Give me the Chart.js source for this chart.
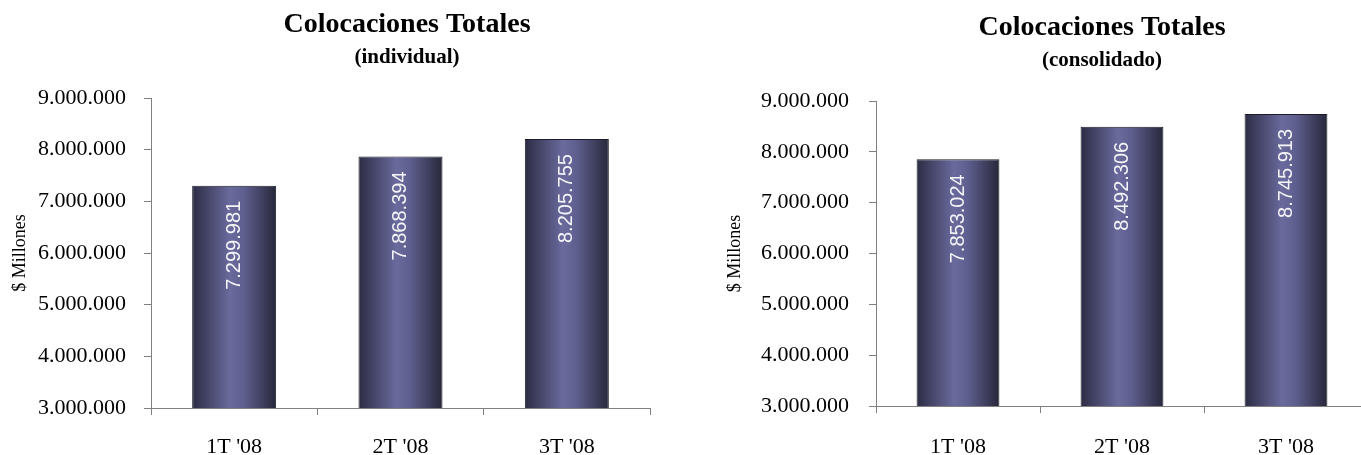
<!DOCTYPE html>
<html>
<head>
<meta charset="utf-8">
<script src="https://cdn.jsdelivr.net/npm/chart.js@4.4.1/dist/chart.umd.min.js"></script>
<style>
  html, body { margin: 0; padding: 0; background: #fff; overflow: hidden; }
  #wrap { position: relative; width: 1361px; height: 455px; overflow: hidden; }
  canvas { position: absolute; top: 0; }
  #chartLeft { left: 0; }
  #chartRight { left: 715px; }
</style>
</head>
<body>
<div id="wrap">
  <canvas id="chartLeft" width="660" height="455"></canvas>
  <canvas id="chartRight" width="660" height="455"></canvas>
</div>
<script>
// Data
const quarters = ["1T '08", "2T '08", "3T '08"];
const individual = [7299981, 7868394, 8205755];
const consolidado = [7853024, 8492306, 8745913];
const yMin = 3000000;
const yMax = 9000000;
const yStep = 1000000;

const serif = "'Liberation Serif', 'Times New Roman', serif";
const sans = "'Liberation Sans', Arial, sans-serif";
const axisGray = "#808080";
const BAR_PCT = 0.505;

// 7299981 -> 7.299.981
function fmt(v) {
  return String(v).replace(/\B(?=(\d{3})+(?!\d))/g, ".");
}

// horizontal shading across each bar
function barFill(context) {
  const chart = context.chart;
  const x = chart.scales.x;
  if (!x || context.dataIndex === undefined) return "#5a5a88";
  const center = x.getPixelForValue(context.dataIndex);
  const half = x.width / chart.data.labels.length * BAR_PCT / 2;
  if (!isFinite(center) || !isFinite(half) || half <= 0) return "#5a5a88";
  const g = chart.ctx.createLinearGradient(center - half, 0, center + half, 0);
  g.addColorStop(0, "#2c2c45");
  g.addColorStop(0.45, "#6a6a9d");
  g.addColorStop(0.62, "#5e5e8e");
  g.addColorStop(1, "#27273a");
  return g;
}

// title + subtitle over each chart
const headingPlugin = {
  id: "heading",
  afterDraw(chart, args, o) {
    const c = chart.ctx;
    c.save();
    c.fillStyle = "#000";
    c.textAlign = "center";
    c.textBaseline = "alphabetic";
    c.font = "bold 28px " + serif;
    c.fillText(o.title, o.cx, o.titleY);
    c.font = "bold 21px " + serif;
    c.fillText(o.sub, o.cx, o.subY);
    c.restore();
  }
};

// vertical value labels inside the top of the bars
const valueLabels = {
  id: "valueLabels",
  afterDatasetsDraw(chart) {
    const c = chart.ctx;
    const values = chart.data.datasets[0].data;
    c.save();
    c.fillStyle = "#f4f4fa";
    c.font = "20px " + sans;
    c.textAlign = "right";
    c.textBaseline = "middle";
    chart.getDatasetMeta(0).data.forEach((bar, i) => {
      c.save();
      c.translate(bar.x, bar.y + 15);
      c.rotate(-Math.PI / 2);
      c.fillText(fmt(values[i]), 0, 0);
      c.restore();
    });
    c.restore();
  }
};

function makeChart(id, values, cfg) {
  return new Chart(document.getElementById(id), {
    type: "bar",
    data: {
      labels: quarters,
      datasets: [{
        data: values,
        backgroundColor: barFill,
        borderColor: "#1c1c28",
        borderWidth: 1,
        barPercentage: 1,
        categoryPercentage: BAR_PCT
      }]
    },
    options: {
      responsive: false,
      animation: false,
      layout: { padding: { top: cfg.top, right: cfg.right, left: 0, bottom: 0 } },
      plugins: {
        legend: { display: false },
        tooltip: { enabled: false },
        heading: { title: "Colocaciones Totales", sub: cfg.sub, cx: cfg.cx, titleY: cfg.titleY, subY: cfg.subY }
      },
      scales: {
        x: {
          grid: { display: true, drawOnChartArea: false, drawTicks: true, tickLength: 7, color: axisGray, offset: true },
          border: { display: true, color: axisGray, width: 1 },
          ticks: { font: { family: serif, size: 22 }, color: "#000", padding: cfg.xPad },
          afterFit(s) { s.height = cfg.xHeight; }
        },
        y: {
          min: yMin,
          max: yMax,
          ticks: { stepSize: yStep, callback: v => fmt(v), font: { family: serif, size: 22 }, color: "#000", padding: cfg.yPad },
          grid: { drawOnChartArea: false, drawTicks: true, tickLength: 7, color: axisGray },
          border: { display: true, color: axisGray, width: 1 },
          title: { display: true, text: "$ Millones", font: { family: serif, size: 18 }, color: "#000", padding: { top: 9, bottom: 0 } },
          afterFit(s) { s.width = cfg.yWidth; }
        }
      }
    },
    plugins: [headingPlugin, valueLabels]
  });
}

makeChart("chartLeft", individual, {
  sub: "(individual)", cx: 407, titleY: 32, subY: 63,
  top: 98, right: 10, xHeight: 47, xPad: 19, yPad: 18, yWidth: 151
});

makeChart("chartRight", consolidado, {
  sub: "(consolidado)", cx: 387, titleY: 35, subY: 66,
  top: 101, right: 7, xHeight: 49, xPad: 21, yPad: 20, yWidth: 161
});
</script>
</body>
</html>
